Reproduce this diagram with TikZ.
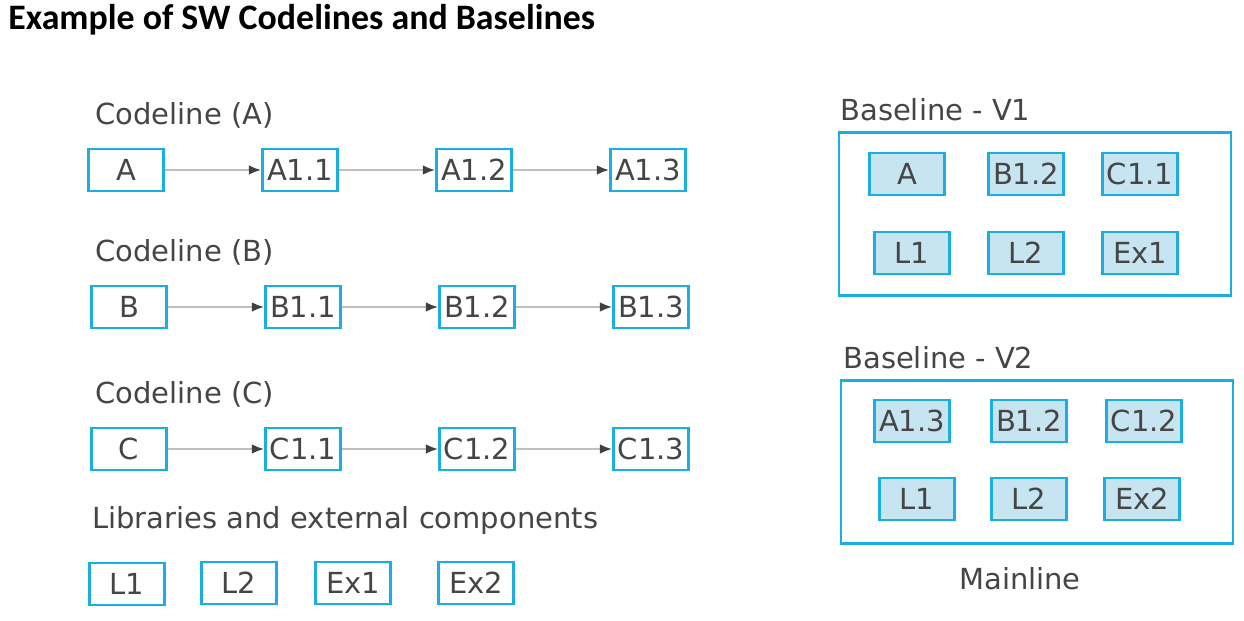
\documentclass[tikz,border=0pt]{standalone}
\usepackage{fontspec}
\setmainfont{DejaVu Sans}
\newfontfamily\titlefont{Carlito}
\usetikzlibrary{arrows.meta,positioning}
\definecolor{boxcyan}{HTML}{1BAEE0}
\definecolor{boxfill}{HTML}{C6E5F0}
\definecolor{txtgray}{HTML}{454545}
\begin{document}
\begin{tikzpicture}[x=0.02cm,y=-0.02cm,
  comp/.style={draw=boxcyan,line width=1.6pt,minimum width=1.5cm,minimum height=0.84cm,inner sep=0pt,text=txtgray,font=\fontsize{16.5}{18}\selectfont},
  compfill/.style={comp,fill=boxfill},
  frame/.style={draw=boxcyan,line width=1.6pt,minimum width=7.84cm,minimum height=3.26cm,inner sep=0pt},
  heading/.style={anchor=west,inner sep=0pt,text=txtgray,font=\fontsize{16.5}{18}\selectfont},
  link/.style={draw=black!25,line width=1.1pt,-{Latex[length=7pt,width=5.5pt,color=black!75]}}]

\useasboundingbox (0,0) rectangle (1244,621);

\node[anchor=west,inner sep=0pt,font=\titlefont\bfseries\fontsize{20.4}{24}\selectfont] (title) at (8,20) {Example of SW Codelines and Baselines};

% codelines
\foreach \r/\y/\ly/\dx in {A/170/115/0, B/307/252/3, C/449/394/3}
{
  \node[heading] (head\r) at (95,\ly) {Codeline (\r)};
  \node[comp] (\r0) at (126+\dx,\y) {\r};
  \foreach \i in {1,2,3}
  {
    \pgfmathtruncatemacro{\p}{\i-1}
    \node[comp] (\r\i) at (126+\dx+174*\i,\y) {\r1.\i};
    \path[link] (\r\p) -- (\r\i);
  }
}

% libraries
\node[heading] (headlib) at (92,521) {Libraries and external components};
\node[comp] (lib1) at (127,584) {L1};
\node[comp] (lib2) at (239,583) {L2};
\node[comp] (lib3) at (353,583) {Ex1};
\node[comp] (lib4) at (476,583) {Ex2};

% baselines
\node[heading] (headv1) at (840,110) {Baseline - V1};
\node[frame] (v1) at (1035,214) {};
\node[compfill] (v1a) at (907,174) {A};
\node[compfill] (v1b) at (1026,174) {B1.2};
\node[compfill] (v1c) at (1140,174) {C1.1};
\node[compfill] (v1d) at (912,253) {L1};
\node[compfill] (v1e) at (1026,253) {L2};
\node[compfill] (v1f) at (1140,253) {Ex1};

\node[heading] (headv2) at (843,358) {Baseline - V2};
\node[frame] (v2) at (1037,462) {};
\node[compfill] (v2a) at (912,421) {A1.3};
\node[compfill] (v2b) at (1029,421) {B1.2};
\node[compfill] (v2c) at (1144,421) {C1.2};
\node[compfill] (v2d) at (917,499) {L1};
\node[compfill] (v2e) at (1029,499) {L2};
\node[compfill] (v2f) at (1142,499) {Ex2};

\node[text=txtgray,font=\fontsize{16.5}{18}\selectfont] (mainline) at (1020,579) {Mainline};

\end{tikzpicture}
\end{document}
